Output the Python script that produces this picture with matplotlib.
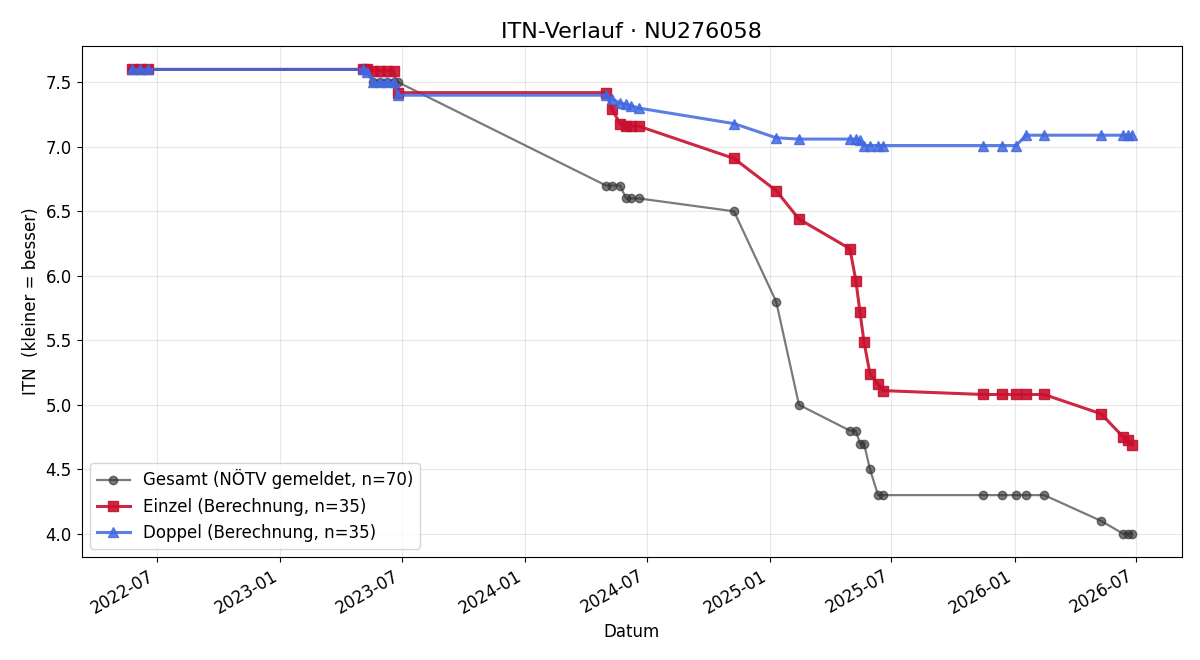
import matplotlib
matplotlib.use("Agg")
import matplotlib.pyplot as plt
import matplotlib.dates as mdates
import pandas as pd

# match dates (one Einzel + one Doppel per date)
dates = ['2022-05-24', '2022-06-05', '2022-06-18',
         '2023-05-05', '2023-05-11', '2023-05-19', '2023-05-29', '2023-06-09', '2023-06-19', '2023-06-26',
         '2024-05-01', '2024-05-10', '2024-05-22', '2024-05-31', '2024-06-07', '2024-06-19',
         '2024-11-08', '2025-01-10', '2025-02-13',
         '2025-04-30', '2025-05-09', '2025-05-15', '2025-05-21', '2025-05-30', '2025-06-11', '2025-06-19',
         '2025-11-15', '2025-12-13', '2026-01-03', '2026-01-18', '2026-02-14',
         '2026-05-10', '2026-06-12', '2026-06-19', '2026-06-25']

gesamt = [7.6, 7.6, 7.6,
          7.6, 7.6, 7.5, 7.5, 7.5, 7.5, 7.5,
          6.7, 6.7, 6.7, 6.6, 6.6, 6.6,
          6.5, 5.8, 5.0,
          4.8, 4.8, 4.7, 4.7, 4.5, 4.3, 4.3,
          4.3, 4.3, 4.3, 4.3, 4.3,
          4.1, 4.0, 4.0, 4.0]

einzel = [7.6, 7.6, 7.6,
          7.6, 7.6, 7.59, 7.59, 7.59, 7.59, 7.42,
          7.42, 7.29, 7.18, 7.16, 7.16, 7.16,
          6.91, 6.66, 6.44,
          6.21, 5.96, 5.72, 5.49, 5.24, 5.16, 5.11,
          5.08, 5.08, 5.08, 5.08, 5.08,
          4.93, 4.75, 4.73, 4.69]

doppel = [7.6, 7.6, 7.6,
          7.6, 7.58, 7.5, 7.5, 7.5, 7.5, 7.4,
          7.4, 7.37, 7.34, 7.33, 7.32, 7.3,
          7.18, 7.07, 7.06,
          7.06, 7.06, 7.05, 7.01, 7.01, 7.01, 7.01,
          7.01, 7.01, 7.01, 7.09, 7.09,
          7.09, 7.09, 7.09, 7.09]

t = pd.to_datetime(dates)

fig, ax = plt.subplots(figsize=(12, 6.6), dpi=100)

ax.plot(t, gesamt, color='#333333', marker='o', ms=6, lw=1.6, alpha=0.65,
        label='Gesamt (NÖTV gemeldet, n=70)')
ax.plot(t, einzel, color='#c8102e', marker='s', ms=7.5, lw=2.2, alpha=0.9,
        label='Einzel (Berechnung, n=%d)' % len(einzel))
ax.plot(t, doppel, color='#4169e1', marker='^', ms=7.5, lw=2.2, alpha=0.85,
        label='Doppel (Berechnung, n=%d)' % len(doppel))

ax.xaxis.set_major_locator(mdates.MonthLocator(bymonth=[1, 7]))
ax.xaxis.set_major_formatter(mdates.DateFormatter('%Y-%m'))
fig.autofmt_xdate()
ax.tick_params(labelsize=12)

ax.grid(True, alpha=0.3)
ax.set_title('ITN-Verlauf · NU276058', fontsize=16)
ax.set_xlabel('Datum', fontsize=12)
ax.set_ylabel('ITN  (kleiner = besser)', fontsize=12)
ax.legend(loc='lower left', fontsize=12)

fig.subplots_adjust(left=0.068, right=0.985, top=0.93, bottom=0.156)
fig.savefig('out.png', dpi=100)
